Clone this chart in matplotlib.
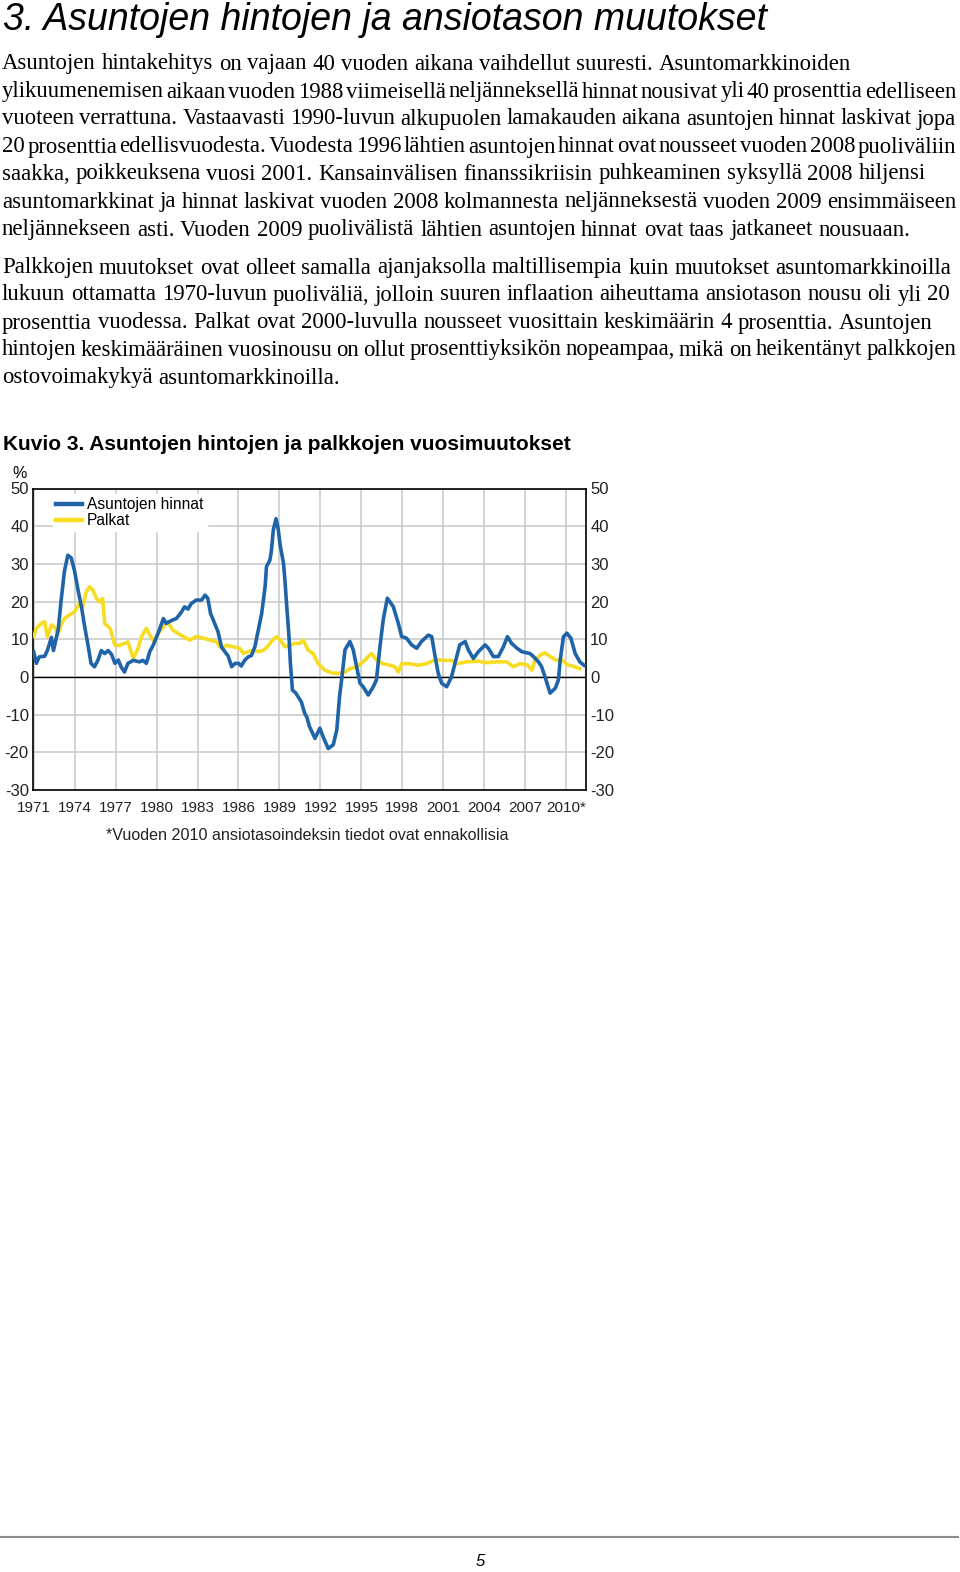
import matplotlib
matplotlib.use("Agg")
import matplotlib.pyplot as plt

# --- data (year, annual change %) ---
house_years = [1971.0, 1971.2, 1971.4, 1971.8, 1972.0, 1972.3, 1972.45, 1972.8, 1973.0, 1973.25,
               1973.5, 1973.75, 1974.0, 1974.25, 1974.5, 1974.75, 1975.0, 1975.2, 1975.45, 1975.7,
               1975.95, 1976.2, 1976.45, 1976.7, 1976.95, 1977.2, 1977.4, 1977.65, 1977.9, 1978.3,
               1978.75, 1979.0, 1979.25, 1979.5, 1979.75, 1980.1, 1980.5, 1980.7, 1981.1, 1981.45,
               1981.8, 1982.05, 1982.3, 1982.55, 1982.9, 1983.3, 1983.55, 1983.75, 1983.95, 1984.25,
               1984.5, 1984.75, 1985.0, 1985.25, 1985.5, 1985.75, 1986.0, 1986.2, 1986.45, 1986.7,
               1986.95, 1987.2, 1987.45, 1987.7, 1987.95, 1988.05, 1988.3, 1988.4, 1988.55, 1988.75,
               1988.9, 1989.05, 1989.3, 1989.4, 1989.5, 1989.7, 1989.8, 1989.95, 1990.2, 1990.6,
               1990.85, 1991.0, 1991.2, 1991.6, 1991.96, 1992.2, 1992.57, 1992.94, 1993.2, 1993.4,
               1993.55, 1993.8, 1994.16, 1994.4, 1994.65, 1994.9, 1995.13, 1995.5, 1995.87, 1996.1,
               1996.36, 1996.6, 1996.9, 1997.33, 1997.7, 1997.95, 1998.3, 1998.68, 1999.05, 1999.4,
               1999.9, 2000.15, 2000.4, 2000.63, 2000.88, 2001.25, 2001.6, 2001.98, 2002.2, 2002.6,
               2002.83, 2003.2, 2003.57, 2004.06, 2004.3, 2004.67, 2005.03, 2005.4, 2005.7, 2006.0,
               2006.4, 2006.75, 2007.35, 2007.6, 2007.97, 2008.2, 2008.45, 2008.82, 2009.2, 2009.43,
               2009.56, 2009.8, 2010.05, 2010.34, 2010.66, 2011.0, 2011.3]
house_vals = [6.7, 3.6, 5.3, 5.5, 7.0, 10.5, 7.0, 12.7, 20.0, 28.0,
              32.3, 31.6, 28.0, 23.0, 18.6, 13.0, 8.0, 3.6, 2.7, 4.4,
              7.0, 6.2, 7.0, 6.0, 3.6, 4.5, 2.7, 1.3, 3.6, 4.4,
              4.0, 4.4, 3.6, 6.7, 8.4, 11.5, 15.5, 14.2, 15.0, 15.5,
              17.1, 18.6, 18.0, 19.5, 20.4, 20.4, 21.7, 20.9, 16.9, 14.2,
              12.0, 8.0, 6.7, 5.5, 2.7, 3.6, 3.6, 2.9, 4.4, 5.3,
              5.7, 8.0, 12.4, 16.9, 24.0, 29.3, 31.0, 33.2, 39.0, 42.0,
              39.4, 35.0, 30.0, 25.7, 20.4, 10.6, 3.6, -3.5, -4.3, -6.6,
              -9.7, -10.6, -13.2, -16.3, -13.6, -15.9, -19.0, -18.0, -14.0, -5.2,
              -0.8, 7.2, 9.4, 7.2, 2.7, -1.7, -2.6, -4.8, -2.6, -0.8,
              8.0, 15.2, 20.9, 18.7, 14.3, 10.7, 10.3, 8.5, 7.6, 9.4,
              11.1, 10.7, 5.4, 0.9, -1.7, -2.6, 0.0, 5.4, 8.5, 9.4,
              7.2, 4.9, 6.7, 8.5, 7.6, 5.4, 5.4, 8.0, 10.7, 8.9,
              7.6, 6.7, 6.2, 5.4, 4.0, 2.7, 0.0, -4.3, -3.0, -0.8,
              4.5, 10.7, 11.6, 10.3, 6.2, 4.0, 3.1]

wage_years = [1971.0, 1971.2, 1971.55, 1971.8, 1972.0, 1972.3, 1972.5, 1972.8, 1973.0, 1973.25,
              1973.6, 1974.0, 1974.35, 1974.6, 1974.85, 1975.1, 1975.35, 1975.6, 1975.85, 1976.05,
              1976.2, 1976.6, 1976.95, 1977.3, 1977.65, 1977.9, 1978.3, 1978.65, 1978.9, 1979.25,
              1979.5, 1979.85, 1980.1, 1980.5, 1980.8, 1981.2, 1981.6, 1981.95, 1982.45, 1982.9,
              1983.4, 1983.9, 1984.4, 1984.75, 1985.1, 1985.6, 1986.1, 1986.35, 1986.7, 1987.1,
              1987.45, 1987.85, 1988.2, 1988.5, 1988.8, 1989.05, 1989.4, 1989.75, 1990.1, 1990.5,
              1990.74, 1991.1, 1991.47, 1991.84, 1992.33, 1992.82, 1993.3, 1993.8, 1994.16, 1994.65,
              1995.13, 1995.5, 1995.75, 1996.1, 1996.6, 1997.1, 1997.46, 1997.7, 1997.95, 1998.56,
              1999.17, 1999.78, 2000.4, 2001.0, 2001.6, 2001.98, 2002.7, 2003.45, 2004.2, 2004.9,
              2005.65, 2006.13, 2006.6, 2007.1, 2007.5, 2007.7, 2008.1, 2008.45, 2008.82, 2009.3,
              2009.68, 2010.05, 2010.54, 2011.0]
wage_vals = [10.7, 12.9, 14.2, 14.7, 10.7, 13.8, 13.3, 11.5, 13.8, 15.5,
             16.4, 17.3, 19.5, 18.6, 22.6, 23.9, 23.0, 20.8, 19.9, 20.8,
             14.2, 12.9, 8.4, 8.4, 8.9, 9.3, 4.9, 7.6, 10.7, 12.9,
             11.1, 9.3, 11.5, 13.3, 14.7, 12.4, 11.5, 10.7, 9.8, 10.7,
             10.3, 9.8, 9.3, 7.6, 8.4, 8.0, 7.6, 6.2, 6.7, 7.1,
             6.7, 7.1, 8.4, 9.8, 10.7, 9.8, 8.0, 8.4, 8.9, 8.9,
             9.8, 7.1, 6.2, 3.5, 1.8, 1.1, 0.9, 1.3, 2.2, 2.7,
             4.0, 5.4, 6.2, 4.5, 3.5, 3.1, 2.7, 1.3, 3.5, 3.5,
             3.1, 3.5, 4.6, 4.4, 4.4, 3.5, 4.0, 4.2, 3.8, 4.0,
             4.0, 2.7, 3.5, 3.3, 1.8, 4.4, 5.8, 6.4, 5.4, 4.4,
             4.6, 3.3, 2.8, 2.2]

tick_years = list(range(1971, 2011, 3))
tick_labels = [str(y) for y in tick_years[:-1]] + ["2010*"]
y_ticks = [-30, -20, -10, 0, 10, 20, 30, 40, 50]

title = "3. Asuntojen hintojen ja ansiotason muutokset"
para_lines = [
    "Asuntojen hintakehitys on vajaan 40 vuoden aikana vaihdellut suuresti. Asuntomarkkinoiden",
    "ylikuumenemisen aikaan vuoden 1988 viimeisellä neljänneksellä hinnat nousivat yli 40 prosenttia edelliseen",
    "vuoteen verrattuna. Vastaavasti 1990-luvun alkupuolen lamakauden aikana asuntojen hinnat laskivat jopa",
    "20 prosenttia edellisvuodesta. Vuodesta 1996 lähtien asuntojen hinnat ovat nousseet vuoden 2008 puoliväliin",
    "saakka, poikkeuksena vuosi 2001. Kansainvälisen finanssikriisin puhkeaminen syksyllä 2008 hiljensi",
    "asuntomarkkinat ja hinnat laskivat vuoden 2008 kolmannesta neljänneksestä vuoden 2009 ensimmäiseen",
    "neljännekseen asti. Vuoden 2009 puolivälistä lähtien asuntojen hinnat ovat taas jatkaneet nousuaan.",
    "Palkkojen muutokset ovat olleet samalla ajanjaksolla maltillisempia kuin muutokset asuntomarkkinoilla",
    "lukuun ottamatta 1970-luvun puoliväliä, jolloin suuren inflaation aiheuttama ansiotason nousu oli yli 20",
    "prosenttia vuodessa. Palkat ovat 2000-luvulla nousseet vuosittain keskimäärin 4 prosenttia. Asuntojen",
    "hintojen keskimääräinen vuosinousu on ollut prosenttiyksikön nopeampaa, mikä on heikentänyt palkkojen",
    "ostovoimakykyä asuntomarkkinoilla.",
]
para_y = [62, 90, 117, 145, 172, 200, 228, 266, 293, 321, 348, 376]
caption = "Kuvio 3. Asuntojen hintojen ja palkkojen vuosimuutokset"
footnote = "*Vuoden 2010 ansiotasoindeksin tiedot ovat ennakollisia"

W, H = 960, 1572
BLUE = "#1f64a8"
YELLOW = "#f6dc22"
plt.rcParams["axes.unicode_minus"] = False


def fy(py):
    return 1 - py / H


fig = plt.figure(figsize=(W / 100, H / 100), dpi=100)
renderer = fig.canvas.get_renderer()


def text_line(line, x0, py, max_w, **kw):
    # words placed one by one on a common baseline; long lines get tighter spacing
    words = line.split(" ")
    base = fy(py + 7.5)
    items = [fig.text(0, base, w, va="baseline", ha="left", **kw) for w in words]
    widths = [t.get_window_extent(renderer).width for t in items]
    probe = fig.text(0, 0, "n n", **kw)
    probe2 = fig.text(0, 0, "nn", **kw)
    space = probe.get_window_extent(renderer).width - probe2.get_window_extent(renderer).width
    probe.remove()
    probe2.remove()
    total = sum(widths) + space * (len(words) - 1)
    if total > max_w and len(words) > 1:
        space = (max_w - sum(widths)) / (len(words) - 1)
    x = x0
    for t, w in zip(items, widths):
        t.set_x(x / W)
        x += w + space


fig.text(3 / W, fy(20), title, family="Liberation Sans", style="italic",
         fontsize=27.0, va="center", ha="left")

for line, py in zip(para_lines, para_y):
    text_line(line, 2, py, 954, family="Liberation Serif", fontsize=16.4)

fig.text(3 / W, fy(444), caption, family="Liberation Sans", weight="bold",
         fontsize=15, va="center", ha="left")

# chart
ax = fig.add_axes([33 / W, fy(790), 553 / W, (790 - 488.5) / H])
ax.plot(wage_years, wage_vals, color=YELLOW, lw=2.6, label="Palkat", zorder=3)
ax.plot(house_years, house_vals, color=BLUE, lw=2.6, label="Asuntojen hinnat", zorder=4)
ax.axhline(0, color="black", lw=1, zorder=2)

ax.set_xlim(1970.95, 2011.45)
ax.set_ylim(-30, 50)
ax.set_xticks(tick_years)
ax.set_xticklabels(tick_labels)
ax.set_yticks(y_ticks)
ax.grid(True, color="#c8c8c8", lw=1.1, zorder=1)
ax.tick_params(length=0, colors="#222222", left=True, right=True,
               labelleft=True, labelright=True)
ax.tick_params(axis="x", labelsize=11, pad=8)
ax.tick_params(axis="y", labelsize=12, pad=3)
for lab in ax.get_xticklabels() + ax.get_yticklabels():
    lab.set_family("Liberation Sans")
for s in ax.spines.values():
    s.set_color("black")
    s.set_linewidth(1.2)

handles, labels = ax.get_legend_handles_labels()
leg = ax.legend(handles[::-1], labels[::-1], loc="upper left",
                bbox_to_anchor=(0.036, 0.982), borderaxespad=0, frameon=True,
                handlelength=1.7, handletextpad=0.3, labelspacing=0.08,
                borderpad=0.2, fancybox=False,
                prop={"family": "Liberation Sans", "size": 11.2})
leg.get_frame().set_edgecolor("white")
leg.get_frame().set_alpha(1)
leg.set_zorder(2)
for h in leg.get_lines():
    h.set_linewidth(3.2)

fig.text(12 / W, fy(474), "%", family="Liberation Sans", fontsize=11.5, va="center", ha="left")
fig.text(106 / W, fy(836), footnote, family="Liberation Sans", fontsize=11.6,
         va="center", ha="left", color="#222222")

# footer
fig.add_artist(plt.Line2D([0, 958 / W], [fy(1537), fy(1537)], color="#8a8a8a", lw=1.5))
fig.text(480 / W, fy(1561), "5", family="Liberation Sans", style="italic", fontsize=12,
         va="center", ha="center")

fig.savefig("out.png", dpi=100)
